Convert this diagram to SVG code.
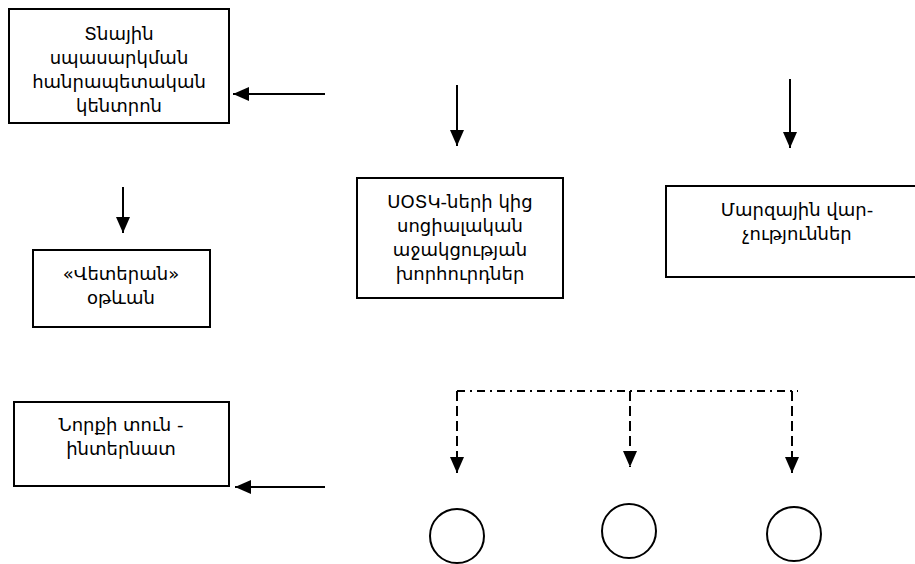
<svg xmlns="http://www.w3.org/2000/svg" width="915" height="564" viewBox="0 0 915 564">
<style>
.box{fill:#fff;stroke:#000;stroke-width:2}
.t{font-family:"DejaVu Sans","Noto Sans",sans-serif;font-size:18px;fill:#000;text-anchor:middle}
.ln{stroke:#000;stroke-width:2;fill:none}
.dd{stroke:#000;stroke-width:2;fill:none;stroke-dasharray:8 5 2 5}
.ds{stroke:#000;stroke-width:2;fill:none;stroke-dasharray:10 5}
.c{fill:#fff;stroke:#000;stroke-width:2}
</style>
<defs>
<marker id="ah" markerUnits="userSpaceOnUse" markerWidth="16" markerHeight="16" viewBox="0 0 16 16" refX="16" refY="8" orient="auto">
<path d="M0,1 L16,8 L0,15 Z" fill="#000"/>
</marker>
</defs>
<rect width="915" height="564" fill="#fff"/>
<g id="n1">
<rect class="box" x="9" y="9" width="220" height="114"/>
<text class="t" x="119" y="40">Տնային</text>
<text class="t" x="119" y="64">սպասարկման</text>
<text class="t" x="119" y="88">հանրապետական</text>
<text class="t" x="119" y="112">կենտրոն</text>
</g>
<g id="n2">
<rect class="box" x="33" y="250" width="177" height="77"/>
<text class="t" x="121" y="280">«Վետերան»</text>
<text class="t" x="121" y="304">օթևան</text>
</g>
<g id="n3">
<rect class="box" x="357" y="178" width="206" height="120"/>
<text class="t" x="460" y="208">ՍՕՏԿ-ների կից</text>
<text class="t" x="460" y="232">սոցիալական</text>
<text class="t" x="460" y="256">աջակցության</text>
<text class="t" x="460" y="280">խորհուրդներ</text>
</g>
<g id="n4">
<rect class="box" x="666" y="186" width="262" height="91"/>
<text class="t" x="797" y="216">Մարզային վար-</text>
<text class="t" x="797" y="240">չություններ</text>
</g>
<g id="n5">
<rect class="box" x="14" y="402" width="215" height="84"/>
<text class="t" x="121" y="431">Նորքի տուն -</text>
<text class="t" x="121" y="455">ինտերնատ</text>
</g>
<g id="c1"><circle class="c" cx="457" cy="536" r="27"/></g>
<g id="c2"><circle class="c" cx="629" cy="531" r="27"/></g>
<g id="c3"><circle class="c" cx="794" cy="534" r="27"/></g>
<g id="connectors">
<line class="ln" x1="325" y1="94" x2="233" y2="94" marker-end="url(#ah)"/>
<line class="ln" x1="325" y1="487" x2="235" y2="487" marker-end="url(#ah)"/>
<line class="ln" x1="457" y1="85" x2="457" y2="146" marker-end="url(#ah)"/>
<line class="ln" x1="790" y1="79" x2="790" y2="148" marker-end="url(#ah)"/>
<line class="ln" x1="123" y1="187" x2="123" y2="233" marker-end="url(#ah)"/>
<line class="dd" x1="457" y1="391" x2="798" y2="391"/>
<line class="ds" x1="457" y1="391" x2="457" y2="473" marker-end="url(#ah)"/>
<line class="ds" x1="630" y1="391" x2="630" y2="467" marker-end="url(#ah)"/>
<line class="ds" x1="792" y1="391" x2="792" y2="473" marker-end="url(#ah)"/>
</g>
</svg>
